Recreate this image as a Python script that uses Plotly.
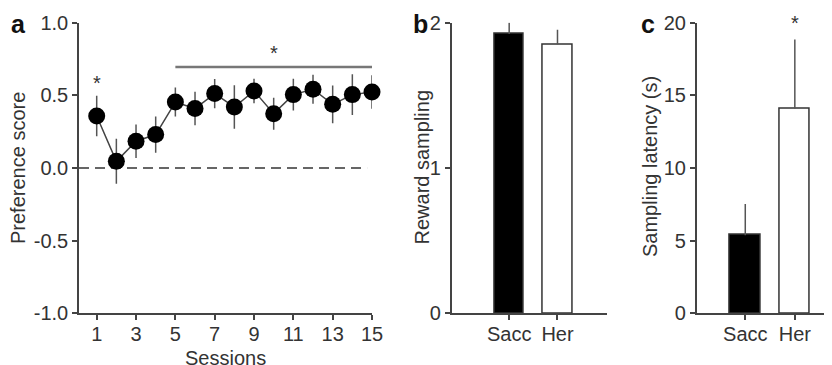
import plotly.graph_objects as go

# ---- data ----
sessions = list(range(1, 16))
pref_mean = [0.358, 0.046, 0.184, 0.23, 0.454, 0.409, 0.512, 0.42, 0.53, 0.374, 0.505, 0.542, 0.438, 0.505, 0.523]
pref_err = [0.14, 0.155, 0.115, 0.125, 0.10, 0.115, 0.10, 0.15, 0.085, 0.11, 0.11, 0.10, 0.13, 0.14, 0.115]
sess_ticks = [1, 3, 5, 7, 9, 11, 13, 15]
pref_ticks = [-1.0, -0.5, 0.0, 0.5, 1.0]
pref_ticktext = ["-1.0", "-0.5", "0.0", "0.5", "1.0"]

groups = ["Sacc", "Her"]
reward_mean = [1.922, 1.851]
reward_err = [0.08, 0.10]
latency_mean = [5.38, 14.09]
latency_err = [2.14, 4.75]
group_colors = ["black", "white"]

FONT = "Liberation Sans, Arial, sans-serif"
TXT = "#333333"
AX = "#444444"

# page body has an 8px margin; figure is sized so it fits the 832x365 window
OFF = 8
W, H = 832 - OFF, 365 - OFF


def px(x):
    return (x - OFF) / W


def py(y):
    return 1 - (y - OFF) / H


fig = go.Figure()

# Panel a
fig.add_trace(go.Scatter(x=[0.1, 14.75], y=[0, 0], mode="lines",
                         line=dict(color="#666666", width=2, dash="10px,6px"),
                         xaxis="x", yaxis="y", showlegend=False, hoverinfo="skip"))
fig.add_trace(go.Scatter(x=[5, 15], y=[0.695, 0.695], mode="lines",
                         line=dict(color="#777777", width=2.5),
                         xaxis="x", yaxis="y", showlegend=False, hoverinfo="skip",
                         cliponaxis=False))
fig.add_trace(go.Scatter(x=sessions, y=pref_mean, mode="lines+markers",
                         line=dict(color="#444444", width=1.5),
                         marker=dict(color="black", size=17),
                         error_y=dict(type="data", array=pref_err, visible=True,
                                      color="#555555", thickness=1.5, width=0),
                         xaxis="x", yaxis="y", showlegend=False, cliponaxis=False))

# Panel b
fig.add_trace(go.Bar(x=groups, y=reward_mean, width=0.62,
                     marker=dict(color=group_colors, line=dict(color="#333333", width=1.5)),
                     error_y=dict(type="data", array=reward_err, arrayminus=[0, 0], symmetric=False,
                                  visible=True, color="#555555", thickness=1.5, width=0),
                     xaxis="x2", yaxis="y2", showlegend=False, cliponaxis=False))

# Panel c
fig.add_trace(go.Bar(x=groups, y=latency_mean, width=0.62,
                     marker=dict(color=group_colors, line=dict(color="#333333", width=1.5)),
                     error_y=dict(type="data", array=latency_err, arrayminus=[0, 0], symmetric=False,
                                  visible=True, color="#555555", thickness=1.5, width=0),
                     xaxis="x3", yaxis="y3", showlegend=False, cliponaxis=False))

ydom = [py(313.3), py(22.7)]
common = dict(showline=True, linecolor=AX, linewidth=1.5, ticks="outside", ticklen=5,
              tickwidth=1.5, tickcolor=AX, showgrid=False, zeroline=False, automargin=False,
              tickfont=dict(family=FONT, size=20, color=TXT))
xcommon = dict(common, ticklabelstandoff=-3)

fig.update_layout(
    template="none",
    width=W, height=H, margin=dict(l=0, r=0, t=0, b=0, pad=0),
    paper_bgcolor="white", plot_bgcolor="white", showlegend=False,
    bargap=0,
    xaxis=dict(domain=[px(79), px(372)], range=[0.1, 15], tickvals=sess_ticks,
               anchor="y", **xcommon),
    yaxis=dict(domain=ydom, range=[-1, 1], tickvals=pref_ticks, ticktext=pref_ticktext,
               anchor="x", **common),
    xaxis2=dict(domain=[px(451.7), px(607)], range=[-1.19, 2.025], type="category",
                anchor="y2", **xcommon),
    yaxis2=dict(domain=ydom, range=[0, 2], tickvals=[0, 1, 2], anchor="x2", **common),
    xaxis3=dict(domain=[px(696.7), 1.0], range=[-0.98, 1.75], type="category",
                anchor="y3", **xcommon),
    yaxis3=dict(domain=ydom, range=[0, 20], tickvals=[0, 5, 10, 15, 20], anchor="x3", **common),
)

ann_font = dict(family=FONT, size=20, color=TXT)
annots = [
    dict(text="Preference score", x=px(18), y=py(168), textangle=-90),
    dict(text="Sessions", x=px(225), y=py(358)),
    dict(text="Reward sampling", x=px(421), y=py(167.5), textangle=-90),
    dict(text="Sampling latency (s)", x=px(650), y=py(167), textangle=-90),
]
for a in annots:
    fig.add_annotation(xref="paper", yref="paper", showarrow=False,
                       xanchor="center", yanchor="middle", font=ann_font, **a)

for txt, x in [("a", 9), ("b", 411), ("c", 639)]:
    fig.add_annotation(xref="paper", yref="paper", x=px(x), y=1.0, text="<b>%s</b>" % txt,
                       showarrow=False, xanchor="left", yanchor="top",
                       font=dict(family=FONT, size=25, color="#111111"))

star_font = dict(family=FONT, size=20, color=TXT)
fig.add_annotation(xref="x", yref="y", x=1, y=0.585, text="*", showarrow=False, font=star_font)
fig.add_annotation(xref="x", yref="y", x=10, y=0.79, text="*", showarrow=False, font=star_font)
fig.add_annotation(xref="x3", yref="y3", x="Her", y=19.95, text="*", showarrow=False, font=star_font)

fig.write_html("out.html")
